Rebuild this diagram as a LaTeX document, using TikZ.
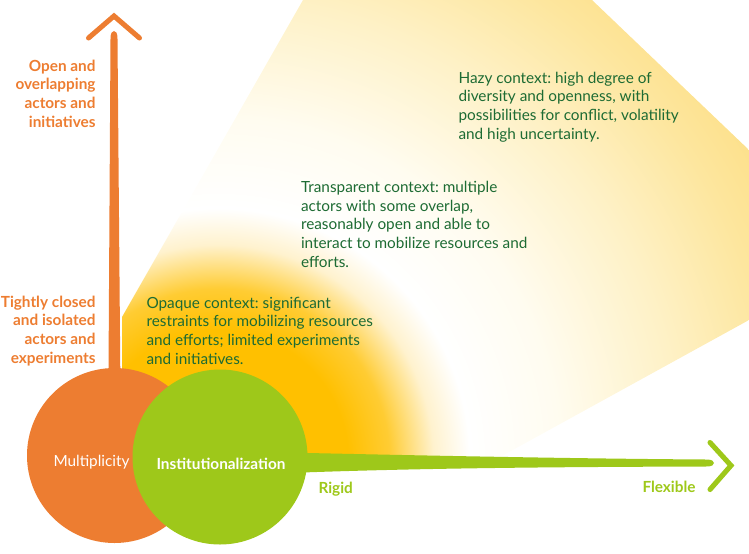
\documentclass[tikz,border=0pt]{standalone}
\usepackage{fontspec}
\setmainfont{Lato}
\usetikzlibrary{calc}
\frenchspacing

\definecolor{mOrange}{RGB}{237,125,49}
\definecolor{iGreen}{RGB}{158,200,26}
\definecolor{cGreen}{RGB}{29,107,51}
\definecolor{glowA}{RGB}{255,192,0}
\definecolor{glowB}{RGB}{255,204,51}
\definecolor{glowC}{RGB}{255,242,206}
\definecolor{glowD}{RGB}{255,252,240}
\definecolor{glowE}{RGB}{254,241,198}
\definecolor{glowF}{RGB}{253,230,158}
\definecolor{glowG}{RGB}{252,221,128}

% radii in bp = 0.75 x reference pixels
\pgfdeclareradialshading{fanglow}{\pgfpoint{0bp}{0bp}}{%
  color(0bp)=(glowA); color(97bp)=(glowA); color(128bp)=(glowB);
  color(161bp)=(glowC); color(188bp)=(white); color(255bp)=(glowD);
  color(345bp)=(glowE); color(420bp)=(glowF); color(488bp)=(glowG);
  color(525bp)=(glowG)}

\tikzset{every picture/.style={line width=0.75pt},
  ctxtext/.style={anchor=base west,align=left,inner sep=0.75pt,text=cGreen,
    font=\fontsize{11.5}{13.95}\selectfont},
  axtext/.style={anchor=base east,align=right,inner sep=0.75pt,text=mOrange,
    font=\bfseries\fontsize{11.5}{13.95}\selectfont},
  endtext/.style={anchor=base west,inner sep=0.75pt,text=iGreen,
    font=\bfseries\fontsize{11.5}{13.95}\selectfont},
  dimcircle/.style={circle,inner sep=0pt,minimum size=131.25pt},
  chevron/.style={line width=3.8pt,line cap=round,line join=miter}}

\begin{document}
\begin{tikzpicture}[x=0.75pt,y=0.75pt,yscale=-1,xscale=1]
\useasboundingbox (0,0) rectangle (749,553);

%Shape: Fan
\begin{scope}
\clip (122,400) -- (122,317) -- (303,0) -- (592,0) -- (749,150) -- (749,320) -- (500,457) -- (230,463) -- cycle;
\node [inner sep=0pt] (glow) at (218,460) {\pgfuseshading{fanglow}};
\end{scope}

%Shape: Circle
\node [dimcircle,fill=mOrange] (multi) at (114.5,455.5) {};
\coordinate (vtop) at (114,31);
\coordinate (vhead) at (114,16);
%Shape: Vertical stem
\fill [mOrange] ($(multi.center)+(-6.5,0)$) -- ($(vtop)+(-3.5,8)$) .. controls ($(vtop)+(-3.5,2)$) and ($(vtop)+(-2,0)$) .. (vtop) .. controls ($(vtop)+(2,0)$) and ($(vtop)+(3.5,2)$) .. ($(vtop)+(3.5,8)$) -- ($(multi.center)+(6.5,0)$) -- cycle;
%Straight Lines
\draw [chevron,mOrange] ($(vhead)+(-25.5,22)$) -- (vhead) -- ($(vhead)+(25.5,22)$);

%Shape: Circle
\node [dimcircle,fill=iGreen] (inst) at (220,457) {};
\coordinate (htip) at (714,463);
\coordinate (hhead) at (731,465.5);
%Shape: Horizontal stem
\fill [iGreen] ($(inst.center)+(0,-6)$) .. controls (350,454) and (550,458.5) .. ($(htip)+(-8,-3.5)$) .. controls ($(htip)+(-2,-3.5)$) and ($(htip)+(0,-2)$) .. (htip) .. controls ($(htip)+(0,2)$) and ($(htip)+(-2,3.5)$) .. ($(htip)+(-8,3.5)$) .. controls (550,467) and (380,468) .. ($(inst.center)+(0,19)$) -- cycle;
%Straight Lines
\draw [chevron,iGreen] ($(hhead)+(-21,-23)$) -- (hhead) -- ($(hhead)+(-21,24)$);

% Text Node
\node [anchor=base west,inner sep=0.75pt,text=white,font=\fontsize{11.5}{13.95}\selectfont] (multilbl) at (52,466) {Multiplicity};
% Text Node
\node [anchor=base west,inner sep=0.75pt,text=white,font=\bfseries\fontsize{11.5}{13.95}\selectfont] (instlbl) at (155,469) {Institutionalization};
% Text Node
\node [axtext] (openlbl) at (97,127) {Open and\\overlapping\\actors and\\initiatives};
% Text Node
\node [axtext] (closedlbl) at (97,363) {Tightly closed\\and isolated\\actors and\\experiments};
% Text Node
\node [endtext] (rigidlbl) at (317,493) {Rigid};
% Text Node
\node [endtext] (flexlbl) at (641,492) {Flexible};
% Text Node
\node [ctxtext] (opaque) at (145,364) {Opaque context: significant\\restraints for mobilizing resources\\and efforts; limited experiments\\and initiatives.};
% Text Node
\node [ctxtext] (transparent) at (299.5,267) {Transparent context: multiple\\actors with some overlap,\\reasonably open and able to\\interact to mobilize resources and\\efforts.};
% Text Node
\node [ctxtext] (hazy) at (457,139) {Hazy context: high degree of\\diversity and openness, with\\possibilities for conflict, volatility\\and high uncertainty.};

\end{tikzpicture}
\end{document}
